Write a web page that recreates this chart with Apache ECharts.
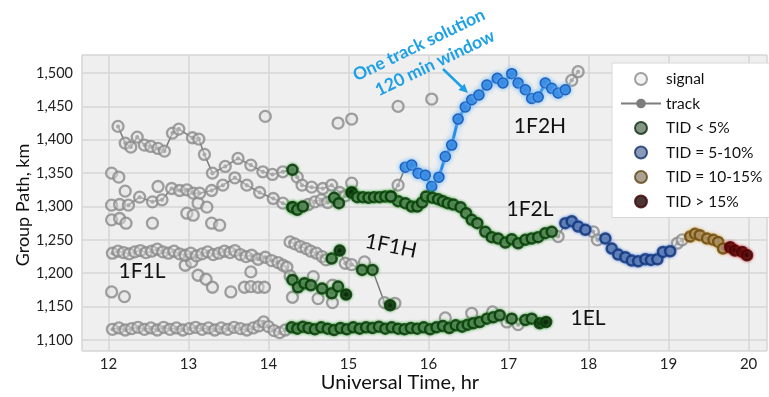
<!DOCTYPE html>
<html>
<head>
<meta charset="utf-8">
<script src="https://cdn.jsdelivr.net/npm/echarts@6/dist/echarts.min.js"></script>
<style>
  html, body { margin: 0; padding: 0; background: #fff; }
  #chart { width: 769px; height: 397px; }
</style>
</head>
<body>
<div id="chart"></div>
<script>
// Each point: [universal time (hr), group path (km), class]
// class: s = signal only, g = TID < 5%, d = TID < 5% (dark core),
//        b = TID 5-10%, t = TID 10-15%, r = TID > 15%
const track1EL = [
  [12.05,1116,'s'],[12.13,1118,'s'],[12.21,1115,'s'],[12.29,1117,'s'],[12.37,1119,'s'],[12.45,1116,'s'],
  [12.53,1118,'s'],[12.61,1115,'s'],[12.69,1119,'s'],[12.77,1116,'s'],[12.85,1118,'s'],[12.93,1115,'s'],
  [13.01,1117,'s'],[13.09,1119,'s'],[13.17,1116,'s'],[13.25,1118,'s'],[13.33,1115,'s'],[13.41,1118,'s'],
  [13.49,1116,'s'],[13.57,1119,'s'],[13.65,1117,'s'],[13.73,1115,'s'],[13.81,1118,'s'],[13.88,1121,'s'],
  [13.94,1127,'s'],[14.00,1120,'s'],[14.07,1114,'s'],[14.14,1111,'s'],[14.21,1115,'s'],
  [14.29,1119,'g'],[14.36,1117,'g'],[14.43,1120,'g'],[14.50,1118,'g'],[14.58,1116,'g'],[14.66,1119,'g'],
  [14.74,1117,'g'],[14.82,1115,'g'],[14.90,1118,'g'],[14.98,1116,'g'],[15.06,1119,'g'],[15.14,1117,'g'],
  [15.22,1119,'g'],[15.30,1118,'g'],[15.38,1120,'g'],[15.46,1117,'g'],[15.54,1119,'g'],[15.62,1117,'g'],
  [15.70,1116,'g'],[15.78,1118,'g'],[15.86,1117,'g'],[15.94,1119,'g'],[16.02,1116,'g'],[16.10,1119,'g'],
  [16.18,1121,'g'],[16.26,1118,'g'],[16.34,1122,'g'],[16.42,1120,'g'],[16.49,1123,'g'],[16.56,1125,'g'],
  [16.64,1127,'g'],[16.73,1132,'g'],[16.81,1134,'g'],[16.89,1137,'g'],[16.98,1127,'s'],[17.04,1132,'g'],
  [17.12,1123,'s'],[17.21,1130,'g'],[17.29,1132,'g'],[17.39,1125,'d'],[17.47,1127,'d']
];

const track1F1L = [
  [12.05,1230,'s'],[12.12,1233,'s'],[12.19,1231,'s'],[12.26,1229,'s'],[12.33,1232,'s'],[12.40,1234,'s'],
  [12.47,1231,'s'],[12.54,1233,'s'],[12.61,1236,'s'],[12.68,1232,'s'],[12.75,1230,'s'],[12.82,1233,'s'],
  [12.89,1229,'s'],[12.96,1227,'s'],[13.03,1230,'s'],[13.10,1226,'s'],[13.17,1229,'s'],[13.24,1232,'s'],
  [13.31,1228,'s'],[13.38,1230,'s'],[13.45,1233,'s'],[13.52,1231,'s'],[13.58,1234,'s'],[13.65,1228,'s'],
  [13.72,1225,'s'],[13.79,1227,'s'],[13.87,1221,'s'],[13.96,1224,'s'],[14.04,1219,'s'],[14.12,1216,'s'],
  [14.18,1212,'s'],[14.23,1209,'s'],[14.27,1196,'s'],
  [14.30,1190,'g'],[14.37,1179,'g'],[14.45,1185,'g'],[14.53,1182,'g'],[14.67,1177,'g'],[14.79,1170,'g'],
  [14.87,1180,'g'],[14.97,1168,'d']
];

const track1F1H = [
  [14.27,1247,'s'],[14.33,1244,'s'],[14.40,1240,'s'],[14.47,1237,'s'],[14.53,1233,'s'],[14.60,1230,'s'],
  [14.67,1225,'s'],[14.72,1220,'s'],[14.79,1222,'g'],[14.89,1234,'d'],[14.96,1215,'s'],[15.04,1213,'s'],
  [15.17,1205,'g'],[15.30,1205,'g'],[15.45,1156,'s'],[15.52,1152,'d']
];

const trackUpper = [
  [12.12,1420,'s'],[12.21,1395,'s'],[12.28,1389,'s'],[12.36,1404,'s'],[12.45,1392,'s'],[12.53,1390,'s'],
  [12.62,1387,'s'],[12.70,1383,'s'],[12.80,1410,'s'],[12.88,1416,'s'],[13.05,1403,'s'],[13.13,1401,'s'],
  [13.20,1378,'s'],[13.30,1350,'s'],[13.46,1360,'s'],[13.62,1372,'s'],[13.78,1362,'s'],[13.93,1352,'s'],
  [14.05,1348,'s'],[14.18,1352,'s'],[14.30,1355,'g'],[14.36,1344,'s'],[14.42,1332,'s'],[14.54,1329,'s'],
  [14.68,1327,'s'],[14.79,1332,'s'],[14.89,1321,'s'],[15.04,1321,'d']
];

const trackMiddle = [
  [12.25,1302,'s'],[12.39,1314,'s'],[12.55,1307,'s'],[12.67,1310,'s'],[12.79,1327,'s'],[12.89,1324,'s'],
  [12.98,1325,'s'],[13.06,1320,'s'],[13.14,1320,'s'],[13.29,1324,'s'],[13.43,1332,'s'],[13.58,1343,'s'],
  [13.73,1332,'s'],[13.89,1321,'s'],[14.06,1312,'s'],[14.18,1305,'s'],[14.30,1299,'g']
];

const track1F2L = [
  [14.30,1299,'g'],[14.36,1295,'g'],[14.43,1300,'g'],[14.50,1303,'s'],[14.58,1307,'s'],[14.66,1310,'s'],
  [14.74,1306,'s'],[14.82,1313,'g'],[14.88,1305,'g'],[14.96,1316,'s'],[15.04,1321,'d'],[15.11,1314,'g'],
  [15.18,1314,'g'],[15.25,1313,'g'],[15.32,1314,'g'],[15.39,1314,'g'],[15.46,1315,'g'],[15.53,1315,'g'],
  [15.62,1308,'g'],[15.71,1305,'g'],[15.79,1300,'g'],[15.86,1300,'g'],[15.92,1306,'g'],[15.97,1315,'g'],
  [16.05,1313,'g'],[16.12,1311,'g'],[16.18,1308,'g'],[16.24,1305,'g'],[16.31,1303,'g'],[16.40,1299,'g'],
  [16.47,1290,'g'],[16.54,1280,'g'],[16.61,1275,'g'],[16.71,1262,'g'],[16.79,1254,'g'],[16.87,1252,'g'],
  [16.96,1246,'g'],[17.04,1251,'g'],[17.12,1245,'g'],[17.21,1250,'g'],[17.29,1252,'g'],[17.37,1254,'g'],
  [17.46,1260,'g'],[17.54,1262,'g'],[17.62,1255,'s'],
  [17.71,1275,'b'],[17.79,1278,'b'],[17.87,1270,'b'],[17.96,1265,'b'],[18.06,1262,'s'],[18.11,1250,'s'],
  [18.21,1252,'b'],[18.29,1237,'b'],[18.37,1228,'b'],[18.46,1224,'b'],[18.54,1219,'b'],[18.62,1218,'b'],
  [18.71,1221,'b'],[18.78,1220,'b'],[18.86,1221,'b'],[18.93,1232,'b'],[19.02,1233,'b'],[19.11,1245,'s'],
  [19.17,1250,'s'],[19.27,1255,'t'],[19.33,1259,'t'],[19.39,1257,'t'],[19.48,1252,'t'],[19.56,1250,'t'],
  [19.62,1247,'t'],[19.68,1237,'t'],[19.77,1239,'r'],[19.83,1234,'r'],[19.92,1232,'r'],[19.98,1227,'r']
];

// short grey link where the high-ray track leaves the 1F2L trace
const link1F2H = [[15.53,1315,'g'],[15.62,1332,'s'],[15.71,1359,'b']];

// one-track solution for the high ray (120 min window)
const track1F2H = [
  [15.71,1359],[15.79,1362],[15.87,1350],[15.96,1347],[16.04,1330],[16.13,1344],[16.21,1375],[16.29,1392],
  [16.37,1431],[16.46,1449],[16.54,1460],[16.63,1467],[16.73,1482],[16.86,1492],[16.93,1485],[17.04,1499],
  [17.12,1485],[17.21,1475],[17.29,1462],[17.37,1464],[17.46,1485],[17.54,1477],[17.62,1470],[17.71,1475]
];
const tail1F2H = [[17.71,1475,'b'],[17.79,1489,'s'],[17.87,1502,'s']];

// isolated echoes not assigned to any track
const signals = [
  [13.96,1435],[14.87,1425],[15.04,1431],[15.62,1450],[16.04,1461],
  [12.04,1350],[12.13,1344],[12.21,1323],[12.62,1330],
  [12.04,1302],[12.14,1303],[12.04,1280],[12.14,1282],[12.22,1275],[12.55,1275],
  [12.98,1290],[13.06,1287],[13.12,1305],[13.23,1299],[13.29,1275],[13.39,1272],
  [12.04,1172],[12.20,1165],[12.96,1212],[13.04,1217],[13.12,1197],[13.22,1191],[13.30,1179],
  [13.53,1172],[13.70,1179],[13.78,1180],[13.87,1179],[13.95,1179],[13.78,1202],
  [14.30,1164],[14.56,1195],[14.62,1162],[14.80,1156],[14.80,1182],[15.20,1217],[15.58,1155],
  [15.04,1335],[16.21,1133],[16.54,1140],[16.80,1142]
];

const xRange = { min: 11.67, max: 20.23 };
const yRange = { min: 1083.5, max: 1527 };

const greyTracks = [track1EL, track1F1L, track1F1H, trackUpper, trackMiddle, track1F2L, link1F2H, tail1F2H];
const allTrackPts = greyTracks.flat();
const pick = (cls) => allTrackPts.filter(p => cls.includes(p[2]));

const labelFont = 'Lato, "Open Sans", sans-serif';
const textFont = 'Lato, "Open Sans", sans-serif';

const ringStyle = (fill, border, glow) => ({
  color: fill, borderColor: border, borderWidth: 2.5,
  shadowBlur: 3, shadowColor: glow
});

const series = [];
greyTracks.forEach(tr => {
  series.push({
    type: 'line', name: 'track',
    data: tr.map(p => [p[0], p[1]]),
    symbol: 'circle', symbolSize: 4, showSymbol: true,
    lineStyle: { color: '#7c7c7c', width: 1.5 },
    itemStyle: { color: '#7c7c7c' },
    z: 2, silent: true, animation: false
  });
});

series.push({
  type: 'scatter', name: 'signal',
  data: signals.concat(pick('s').map(p => [p[0], p[1]])),
  symbol: 'circle', symbolSize: 11,
  itemStyle: { color: 'rgba(225,225,225,0.55)', borderColor: '#8a8a8a', borderWidth: 2.3 },
  z: 3, animation: false
});

series.push({
  type: 'line', name: '1F2H',
  data: track1F2H,
  symbol: 'circle', symbolSize: 10, showSymbol: true,
  lineStyle: { color: '#2b8ce8', width: 3, shadowBlur: 6, shadowColor: 'rgba(120,190,255,0.9)' },
  itemStyle: { color: '#2f84de', borderColor: '#1d5fbc', borderWidth: 1.5, shadowBlur: 4, shadowColor: 'rgba(120,190,255,0.9)' },
  z: 4, animation: false
});

series.push({
  type: 'scatter', name: 'TID < 5%',
  data: pick('gd').map(p => p[2] === 'd'
    ? { value: [p[0], p[1]], itemStyle: { color: '#050a05' } }
    : [p[0], p[1]]),
  symbol: 'circle', symbolSize: 10,
  itemStyle: ringStyle('#647a66', '#0c2c0c', 'rgba(40,170,40,0.9)'),
  z: 5, animation: false
});
series.push({
  type: 'scatter', name: 'TID = 5-10%',
  data: track1F2L.filter(p => p[2] === 'b').map(p => [p[0], p[1]]),
  symbol: 'circle', symbolSize: 10,
  itemStyle: ringStyle('#6a82a6', '#142f6a', 'rgba(60,120,230,0.9)'),
  z: 5, animation: false
});
series.push({
  type: 'scatter', name: 'TID = 10-15%',
  data: pick('t').map(p => [p[0], p[1]]),
  symbol: 'circle', symbolSize: 10,
  itemStyle: ringStyle('#958a78', '#5e4614', 'rgba(225,160,50,0.9)'),
  z: 5, animation: false
});
series.push({
  type: 'scatter', name: 'TID > 15%',
  data: pick('r').map(p => [p[0], p[1]]),
  symbol: 'circle', symbolSize: 10,
  itemStyle: ringStyle('#1e0303', '#3e0404', 'rgba(215,30,30,0.9)'),
  z: 5, animation: false
});

// arrowhead for the annotation pointer
const arrowFrom = [443, 69], arrowTo = [468, 93];
const ang = Math.atan2(arrowTo[1] - arrowFrom[1], arrowTo[0] - arrowFrom[0]);
const head = (a, r) => [arrowTo[0] - r * Math.cos(ang + a), arrowTo[1] - r * Math.sin(ang + a)];

const chart = echarts.init(document.getElementById('chart'), null, { renderer: 'canvas' });
chart.setOption({
  animation: false,
  backgroundColor: '#ffffff',
  grid: {
    left: 82, right: 2, top: 55, bottom: 46,
    show: true, backgroundColor: '#efefef', borderWidth: 0
  },
  xAxis: {
    type: 'value', min: xRange.min, max: xRange.max, splitNumber: 8,
    axisLine: { show: false }, axisTick: { show: false },
    axisLabel: { showMinLabel: false, showMaxLabel: false, margin: 6,
      fontFamily: labelFont, fontSize: 15, color: '#222' },
    splitLine: { show: true, lineStyle: { color: '#d6d6d6', width: 1.5 } }
  },
  yAxis: {
    type: 'value', min: yRange.min, max: yRange.max, splitNumber: 9,
    axisLine: { show: false }, axisTick: { show: false },
    axisLabel: { showMinLabel: false, showMaxLabel: false, margin: 9,
      fontFamily: labelFont, fontSize: 14.5, color: '#222',
      formatter: v => v.toLocaleString('en-US') },
    splitLine: { show: true, lineStyle: { color: '#d6d6d6', width: 1.5 } }
  },
  legend: {
    data: ['signal', 'track', 'TID < 5%', 'TID = 5-10%', 'TID = 10-15%', 'TID > 15%'],
    orient: 'vertical', left: 612, top: 63,
    backgroundColor: '#ffffff', borderColor: '#d8d8d8', borderWidth: 1,
    padding: [8, 12, 8, 8],
    itemWidth: 40, itemHeight: 12, itemGap: 8.5,
    textStyle: { fontFamily: textFont, fontSize: 15.5, color: '#111' },
    selectedMode: false
  },
  graphic: [
    { type: 'text', x: 400, y: 383, style: { text: 'Universal Time, hr', font: '20px ' + textFont, fill: '#111', align: 'center', verticalAlign: 'middle' }, z: 50 },
    { type: 'text', x: 23, y: 205, rotation: Math.PI / 2, style: { text: 'Group Path, km', font: '18px ' + textFont, fill: '#111', align: 'center', verticalAlign: 'middle' }, z: 50 },
    { type: 'text', x: 540, y: 126, style: { text: '1F2H', font: '21px ' + textFont, fill: '#111', align: 'center', verticalAlign: 'middle' }, z: 50 },
    { type: 'text', x: 530, y: 209, style: { text: '1F2L', font: '21px ' + textFont, fill: '#111', align: 'center', verticalAlign: 'middle' }, z: 50 },
    { type: 'text', x: 391, y: 246, rotation: -0.2, style: { text: '1F1H', font: '21px ' + textFont, fill: '#111', align: 'center', verticalAlign: 'middle' }, z: 50 },
    { type: 'text', x: 142, y: 271, style: { text: '1F1L', font: '21px ' + textFont, fill: '#111', align: 'center', verticalAlign: 'middle' }, z: 50 },
    { type: 'text', x: 588, y: 318, style: { text: '1EL', font: '21px ' + textFont, fill: '#111', align: 'center', verticalAlign: 'middle' }, z: 50 },
    { type: 'text', x: 419, y: 45, rotation: 0.45, style: { text: 'One track solution', font: 'bold 17.5px ' + textFont, fill: '#1ea0e6', align: 'center', verticalAlign: 'middle' }, z: 50 },
    { type: 'text', x: 435, y: 63, rotation: 0.45, style: { text: '120 min window', font: 'bold 17.5px ' + textFont, fill: '#1ea0e6', align: 'center', verticalAlign: 'middle' }, z: 50 },
    { type: 'line', shape: { x1: arrowFrom[0], y1: arrowFrom[1], x2: arrowTo[0] - 4 * Math.cos(ang), y2: arrowTo[1] - 4 * Math.sin(ang) },
      style: { stroke: '#1ea0e6', lineWidth: 2.5 }, z: 50 },
    { type: 'polygon', shape: { points: [arrowTo, head(0.45, 10), head(-0.45, 10)] },
      style: { fill: '#1ea0e6' }, z: 50 }
  ],
  series: series
});
</script>
</body>
</html>
